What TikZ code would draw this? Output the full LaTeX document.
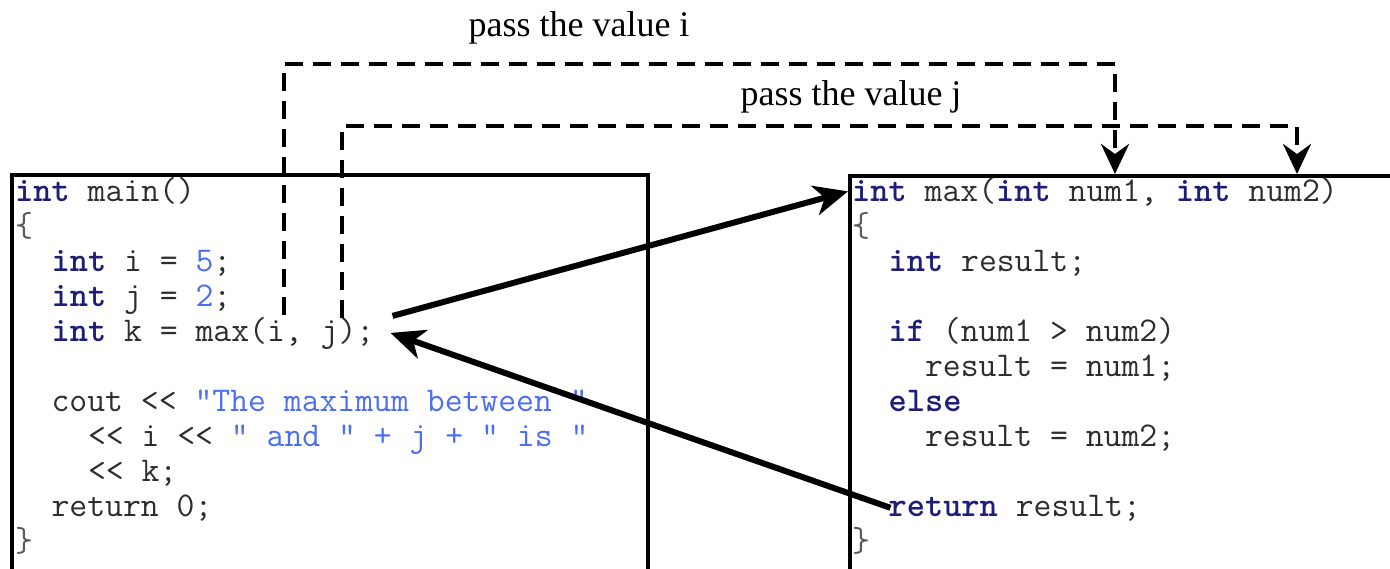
\documentclass[tikz,border=0pt]{standalone}
\usepackage{fontspec}
\setmainfont{Liberation Serif}
\usetikzlibrary{arrows.meta}
\definecolor{kwnavy}{RGB}{30,30,120}
\definecolor{litblue}{RGB}{75,110,245}
\definecolor{codegray}{RGB}{45,45,45}
\definecolor{bracegray}{RGB}{90,90,90}
\newcommand{\kw}[1]{\textcolor{kwnavy}{\bfseries #1}}
\newcommand{\lit}[1]{\textcolor{litblue}{#1}}

\tikzset{
  codeline/.style={anchor=base west, inner sep=0pt, text=codegray,
    font=\ttfamily\fontsize{34.7pt}{35pt}\selectfont},
  codebox/.style={draw, line width=3.5pt, anchor=north west, inner sep=0pt,
    minimum width=#1, minimum height=440pt},
  passlabel/.style={font=\fontsize{36pt}{40pt}\selectfont},
  passval/.style={line width=4.5pt, dash pattern=on 18pt off 10pt,
    -{Stealth[length=30pt,width=28pt,inset=10pt]}},
  callret/.style={line width=6pt, -{Stealth[length=34pt,width=30pt,inset=10pt]}}
}

\begin{document}
\frenchspacing
\begin{tikzpicture}[x=1pt, y=-1pt]
	\useasboundingbox (0,0) rectangle (1390,568);
	\clip (0,0) rectangle (1390,568);
	% the two code boxes, cut off at the bottom
	\node[codebox=636pt] (mainbox) at (10,173) {};
	\node[codebox=600pt] (maxbox) at (848,174) {};
	% main()
	\node[codeline] (mainhead) at (15,201) {\kw{int} main()};
	\node[codeline, text=bracegray] (mainopen) at (15,236) {\{};
	\node[codeline] (deci) at (51.4,271) {\kw{int} i = \lit{5};};
	\node[codeline] (decj) at (51.4,306) {\kw{int} j = \lit{2};};
	\node[codeline] (callk) at (51.4,341) {\kw{int} k = max(i, j);};
	\node[codeline] (coutline) at (51.4,411) {cout << \lit{"The maximum between "}};
	\node[codeline] (coutand) at (87.8,446) {<< i << \lit{" and " + j + " is "}};
	\node[codeline] (coutk) at (87.8,481) {<< k;};
	\node[codeline] (retzero) at (51.4,516) {return 0;};
	\node[codeline, text=bracegray] (mainclose) at (15,551) {\}};
	% max()
	\node[codeline] (maxhead) at (852,201) {\kw{int} max(\kw{int} num1, \kw{int} num2)};
	\node[codeline, text=bracegray] (maxopen) at (852,236) {\{};
	\node[codeline] (decres) at (888.4,271) {\kw{int} result;};
	\node[codeline] (ifline) at (888.4,341) {\kw{if} (num1 > num2)};
	\node[codeline] (thenline) at (924.8,376) {result = num1;};
	\node[codeline] (elseline) at (888.4,411) {\kw{else}};
	\node[codeline] (elseassign) at (924.8,446) {result = num2;};
	\node[codeline] (retres) at (888.4,516) {\kw{return} result;};
	\node[codeline, text=bracegray] (maxclose) at (852,551) {\}};
	% passing the arguments
	\node[passlabel] (labeli) at (579,28) {pass the value i};
	\node[passlabel] (labelj) at (851,97) {pass the value j};
	\coordinate (argi) at (284,315);
	\coordinate (argj) at (342,318);
	\draw[passval] (argi) -- ++(0,-251) -| (maxbox.north -| 1115,0);
	\draw[passval] (argj) -- ++(0,-192) -| (maxbox.north -| 1297,0);
	% call and return
	\draw[callret] ([shift={(18pt,17pt)}]callk.east) -- (maxbox.west |- maxhead.west);
	\draw[callret] ([xshift=2pt]retres.west) -- ([xshift=16pt]callk.east);
\end{tikzpicture}
\end{document}
